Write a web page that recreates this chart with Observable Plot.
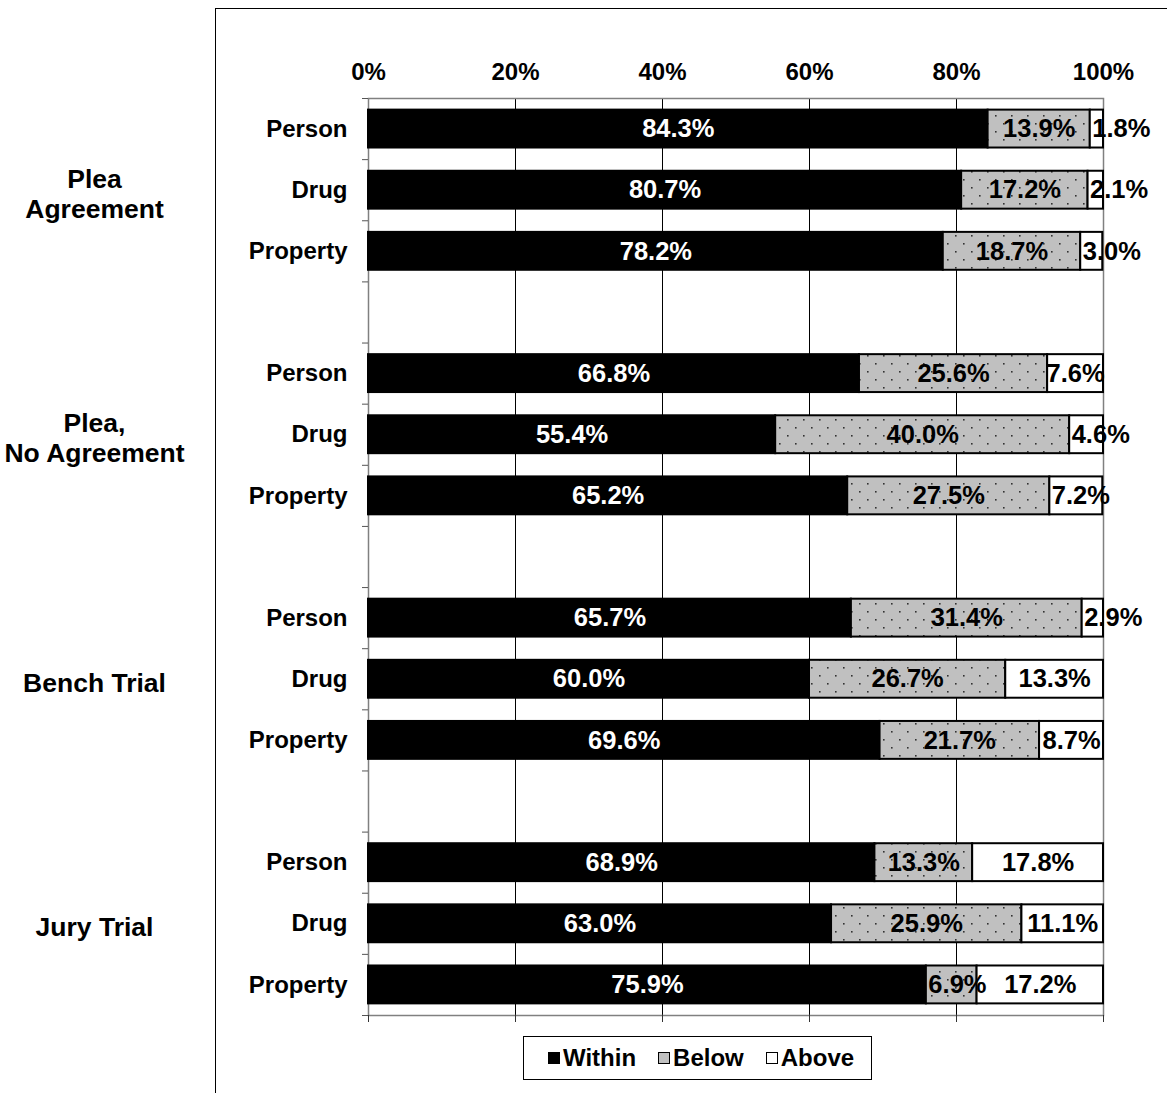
<!DOCTYPE html>
<html>
<head>
<meta charset="utf-8">
<script src="https://cdn.jsdelivr.net/npm/d3@7"></script>
<script src="https://cdn.jsdelivr.net/npm/@observablehq/plot@0.6"></script>
<style>
  html, body { margin: 0; padding: 0; background: #fff; overflow: hidden; }
  body { width: 1167px; height: 1093px; position: relative; font-family: "Liberation Sans", Arial, sans-serif; }
  #outer { position: absolute; left: 215px; top: 8px; width: 1000px; height: 1100px;
           border-left: 1.5px solid #000; border-top: 1.5px solid #000; pointer-events: none; }
  #chart svg { display: block; }
  #legend { position: absolute; left: 523px; top: 1036px; width: 349px; height: 44px; box-sizing: border-box;
            border: 1.5px solid #000; display: flex; align-items: center; padding-left: 24px;
            font-weight: bold; font-size: 24px; color: #000; }
  #legend .item { display: flex; align-items: center; margin-right: 22px; }
  #legend .sw { width: 12px; height: 12px; border: 1.5px solid #000; box-sizing: border-box; margin-right: 3px; }
</style>
</head>
<body>
<div id="chart"></div>
<div id="outer"></div>
<div id="legend"></div>
<script>
const groups = ["Plea\nAgreement", "Plea,\nNo Agreement", "Bench Trial", "Jury Trial"];
const offenses = ["Person", "Drug", "Property"];
const series = ["Within", "Below", "Above"];
const within = [84.3, 80.7, 78.2, 66.8, 55.4, 65.2, 65.7, 60.0, 69.6, 68.9, 63.0, 75.9];
const below  = [13.9, 17.2, 18.7, 25.6, 40.0, 27.5, 31.4, 26.7, 21.7, 13.3, 25.9, 6.9];
const above  = [1.8, 2.1, 3.0, 7.6, 4.6, 7.2, 2.9, 13.3, 8.7, 17.8, 11.1, 17.2];
const xTicks = [0, 20, 40, 60, 80, 100];

const seriesValues = [within, below, above];
const seriesFill = {Within: "#000", Below: "url(#dots)", Above: "#fff"};
const PAD = 0.19;          // gap above/below each bar inside its slot
const NARROW = 7.4;        // labels of thinner segments start at the segment's left edge

const table = [];
const rows = [];
groups.forEach((g, gi) => offenses.forEach((o, oi) => {
  const i = gi * 3 + oi;
  const slot = gi * 4 + oi;
  rows.push({group: g, offense: o, slot});
  let cum = 0;
  series.forEach((s, si) => {
    const v = seriesValues[si][i];
    table.push({group: g, offense: o, slot, series: s, value: v, x1: cum, x2: cum + v});
    cum += v;
  });
}));
const groupRows = rows.filter(r => r.offense === "Drug");
const nSlots = groups.length * 4 - 1;
const fmt = v => v.toFixed(1) + "%";

const font = "Liberation Sans, Arial, sans-serif";
const VAL_SIZE = 25.5;

const marks = [
  Plot.ruleX(xTicks.filter(t => t > 0 && t < 100), {stroke: "#000", strokeWidth: 1}),
  Plot.frame({stroke: "#808080", strokeWidth: 1.5}),
  ...series.map(s => Plot.rect(table.filter(d => d.series === s), {
    x1: "x1", x2: "x2",
    y1: d => d.slot + PAD, y2: d => d.slot + 1 - PAD,
    fill: seriesFill[s], stroke: "#000", strokeWidth: 2
  })),
  Plot.text(table.filter(d => d.series === "Within"), {
    x: d => (d.x1 + d.x2) / 2, y: d => d.slot + 0.5, text: d => fmt(d.value),
    fill: "#fff", fontSize: VAL_SIZE, fontWeight: "bold", textAnchor: "middle"
  }),
  Plot.text(table.filter(d => d.series !== "Within" && d.value >= NARROW), {
    x: d => (d.x1 + d.x2) / 2, y: d => d.slot + 0.5, text: d => fmt(d.value),
    fill: "#000", fontSize: VAL_SIZE, fontWeight: "bold", textAnchor: "middle"
  }),
  Plot.text(table.filter(d => d.series !== "Within" && d.value < NARROW), {
    x: "x1", dx: 2, y: d => d.slot + 0.5, text: d => fmt(d.value),
    fill: "#000", fontSize: VAL_SIZE, fontWeight: "bold", textAnchor: "start"
  }),
  Plot.text(rows, {
    frameAnchor: "left", dx: -21, y: d => d.slot + 0.5, text: "offense",
    fill: "#000", fontSize: 24, fontWeight: "bold", textAnchor: "end"
  }),
  Plot.text(groupRows, {
    frameAnchor: "left", dx: -274, dy: 3, y: d => d.slot + 0.5, text: "group",
    fill: "#000", fontSize: 26.5, fontWeight: "bold", textAnchor: "middle", lineHeight: 1.13
  }),
  Plot.axisX({anchor: "top", ticks: xTicks, tickFormat: d => d + "%", tickSize: 0, tickPadding: 19,
              label: null, fontSize: 24, fontWeight: "bold", fill: "#000"}),
  Plot.axisX({anchor: "bottom", ticks: xTicks, tickFormat: () => "", tickSize: 7, label: null, stroke: "#333"}),
  Plot.axisY({ticks: d3.range(nSlots + 1), tickFormat: () => "", tickSize: 6, label: null, stroke: "#555"})
];

const chart = Plot.plot({
  width: 1167,
  height: 1030,
  marginLeft: 368,
  marginRight: 64,
  marginTop: 98,
  marginBottom: 15,
  style: {fontFamily: font, fontSize: "24px", fontWeight: "bold", color: "#000", background: "#fff"},
  x: {domain: [0, 100]},
  y: {domain: [0, nSlots], reverse: true},
  marks
});

const svg = d3.select(chart.tagName.toLowerCase() === "svg" ? chart : chart.querySelector("svg"));
const defs = svg.insert("defs", ":first-child");
const pat = defs.append("pattern").attr("id", "dots").attr("patternUnits", "userSpaceOnUse")
  .attr("width", 16).attr("height", 16);
pat.append("rect").attr("width", 16).attr("height", 16).attr("fill", "#c0c0c0");
pat.append("rect").attr("x", 3).attr("y", 3).attr("width", 1.6).attr("height", 1.6).attr("fill", "#333");
pat.append("rect").attr("x", 11).attr("y", 11).attr("width", 1.6).attr("height", 1.6).attr("fill", "#333");

document.getElementById("chart").appendChild(chart);

const legend = d3.select("#legend");
series.forEach(s => {
  const it = legend.append("div").attr("class", "item");
  it.append("div").attr("class", "sw")
    .style("background", s === "Within" ? "#000" : s === "Below" ? "#c0c0c0" : "#fff");
  it.append("span").text(s);
});
</script>
</body>
</html>
